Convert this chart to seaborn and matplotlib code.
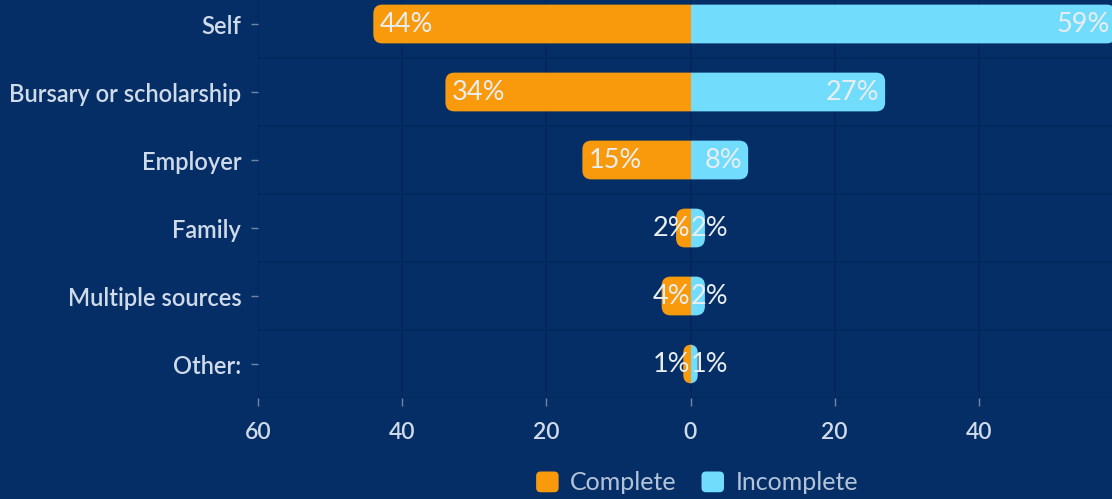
import numpy as np
import pandas as pd
import matplotlib
matplotlib.use("Agg")
import matplotlib.pyplot as plt
import seaborn as sns
from matplotlib.patches import FancyBboxPatch, Rectangle, Patch
from matplotlib.legend_handler import HandlerPatch

# Funding source by completion status (% of respondents)
categories = ["Self", "Bursary or scholarship", "Employer", "Family",
              "Multiple sources", "Other:"]
complete = [44, 34, 15, 2, 4, 1]
incomplete = [59, 27, 8, 2, 2, 1]
series = ["Complete", "Incomplete"]
x_ticks = [-60, -40, -20, 0, 20, 40]
x_tick_labels = ["60", "40", "20", "0", "20", "40"]

BG = "#052e67"
GRID = "#03285a"
ORANGE = "#f99a0c"
SKY = "#72dcfd"
TEXT = "#d0dbe9"
LABEL = "#e9eef0"
LEGEND_TEXT = "#b4c4d8"
TICK = "#6f86a6"

sns.set_theme(style="dark")
plt.rcParams["font.family"] = ["Lato", "DejaVu Sans"]

df = pd.DataFrame({
    "category": categories * 2,
    "series": [series[0]] * len(categories) + [series[1]] * len(categories),
    "value": [-v for v in complete] + list(incomplete),
})

W, H = 1112, 499
fig = plt.figure(figsize=(W / 100, H / 100), dpi=100, facecolor=BG)
ax_left, ax_right, ax_bottom, ax_top = 258, 1123, 101, 509
ax = fig.add_axes([ax_left / W, ax_bottom / H,
                   (ax_right - ax_left) / W, (ax_top - ax_bottom) / H])
ax.set_facecolor(BG)

sns.barplot(data=df, y="category", x="value", hue="series",
            palette=[ORANGE, SKY], dodge=False, orient="h", width=0.57,
            saturation=1, ax=ax, legend=False)

xmin, xmax = -60, 60
ax.set_xlim(xmin, xmax)
ax.set_ylim(len(categories) - 0.5, -0.5)

px_per_x = (ax_right - ax_left) / (xmax - xmin)
px_per_y = (ax_top - ax_bottom) / len(categories)
R_PX = 9.0
R = R_PX / px_per_x
aspect = (R_PX / px_per_y) / R

# Replace the flat bars with bars rounded on their outer end
rects = list(ax.patches)
for rect in rects:
    bb = rect.get_bbox()
    x0, x1 = bb.xmin, bb.xmax
    y0, h = bb.ymin, bb.ymax - bb.ymin
    color = rect.get_facecolor()
    rect.remove()
    if x1 - x0 <= 0:
        continue
    if x0 < 0:  # left-hand (Complete) bar
        bx0, bx1 = x0, R
        clip = Rectangle((xmin, y0 - 1), -xmin, h + 2, transform=ax.transData)
    else:
        bx0, bx1 = -R, x1
        clip = Rectangle((0, y0 - 1), xmax, h + 2, transform=ax.transData)
    r = min(R, (bx1 - bx0) / 2)
    p = FancyBboxPatch((bx0, y0), bx1 - bx0, h,
                       boxstyle=f"round,pad=0,rounding_size={r}",
                       mutation_aspect=aspect, facecolor=color,
                       edgecolor="none", zorder=3)
    ax.add_patch(p)
    p.set_clip_path(clip)

# Value labels inside the outer end of each bar
fig.canvas.draw()
renderer = fig.canvas.get_renderer()
pad = 6 / px_per_x
label_kw = dict(va="center", color=LABEL, fontsize=19.5, fontweight="normal",
                zorder=5)
for i, cat in enumerate(categories):
    c, inc = complete[i], incomplete[i]
    t = ax.text(-c + pad, i, f"{c}%", ha="left", **label_kw)
    tw = t.get_window_extent(renderer).width / px_per_x
    if -c + pad + tw > 0:
        t.set_position((0, i))
        t.set_ha("right")
    t = ax.text(inc - pad, i, f"{inc}%", ha="right", **label_kw)
    tw = t.get_window_extent(renderer).width / px_per_x
    if inc - pad - tw < 0:
        t.set_position((0, i))
        t.set_ha("left")

ax.set_xticks(x_ticks)
ax.set_xticklabels(x_tick_labels)
ax.set_yticks(range(len(categories)))
ax.set_yticklabels(categories, fontweight="semibold")
ax.set_yticks(np.arange(-0.5, len(categories), 1), minor=True)
ax.set_xlabel("")
ax.set_ylabel("")
for s in ax.spines.values():
    s.set_visible(False)
ax.grid(False)
ax.grid(axis="x", which="major", color=GRID, lw=1.2, zorder=0)
ax.grid(axis="y", which="minor", color=GRID, lw=1.2, zorder=0)
ax.set_axisbelow(True)
ax.tick_params(axis="y", which="major", length=5, width=1, color=TICK,
               labelcolor=TEXT, labelsize=17, pad=7, left=True)
ax.tick_params(axis="y", which="minor", length=0)
ax.tick_params(axis="x", which="major", length=6, width=1, color=TICK,
               labelcolor=TEXT, labelsize=16.5, pad=11, bottom=True)
for lbl in ax.get_xticklabels():
    lbl.set_fontweight("semibold")


class RoundedSquare(HandlerPatch):
    def create_artists(self, legend, orig_handle, xdescent, ydescent,
                       width, height, fontsize, trans):
        p = FancyBboxPatch((-xdescent, -ydescent), width, height,
                           boxstyle=f"round,pad=0,rounding_size={height * 0.22}",
                           facecolor=orig_handle.get_facecolor(),
                           edgecolor="none", transform=trans)
        return [p]


handles = [Patch(facecolor=ORANGE, edgecolor="none", label=series[0]),
           Patch(facecolor=SKY, edgecolor="none", label=series[1])]
fig.legend(handles=handles, loc="center", bbox_to_anchor=(697 / W, 1 - 483 / H),
           ncol=2, frameon=False, labelcolor=LEGEND_TEXT, fontsize=18,
           handlelength=0.9, handleheight=0.9, handletextpad=0.45,
           columnspacing=1.0,
           handler_map={Patch: RoundedSquare()})

fig.savefig("out.png", dpi=100, facecolor=BG)
